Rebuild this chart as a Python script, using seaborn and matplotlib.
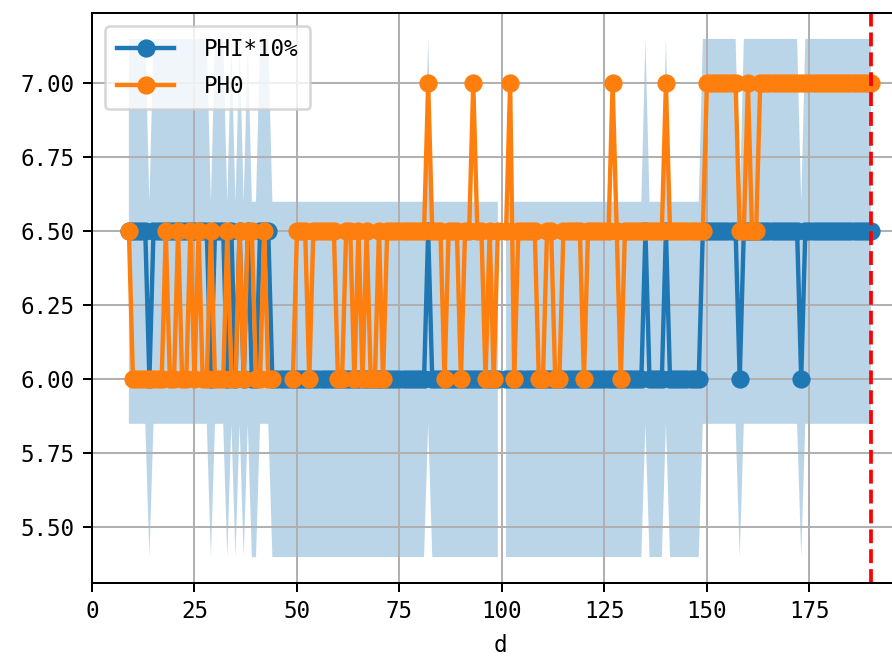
import numpy as np
import pandas as pd
import matplotlib
matplotlib.use("Agg")
import matplotlib.pyplot as plt
import seaborn as sns

nan = np.nan

# jours (axe x)
days = list(range(9, 191))

# PHI (ligne bleue), bande = +/- 10%
phi = [6.5,
       6.5, 6.5, 6.5, 6.5, 6.0, 6.5, 6.5, 6.5, 6.5, 6.5,
       6.5, 6.5, 6.5, 6.5, 6.5, 6.5, 6.5, 6.5, 6.5, 6.0,
       6.5, 6.5, 6.5, 6.0, 6.5, 6.0, 6.5, 6.0, 6.5, 6.0,
       6.0, 6.5, 6.5, 6.5, 6.0, 6.0, 6.0, 6.0, 6.0, 6.0,
       6.0, 6.0, 6.0, 6.0, 6.0, 6.0, 6.0, 6.0, 6.0, 6.0,
       6.0, 6.0, 6.0, 6.0, 6.0, 6.0, 6.0, 6.0, 6.0, 6.0,
       6.0, 6.0, 6.0, 6.0, 6.0, 6.0, 6.0, 6.0, 6.0, 6.0,
       6.0, 6.0, 6.5, 6.0, 6.0, 6.0, 6.0, 6.0, 6.0, 6.0,
       6.0, 6.0, 6.0, 6.0, 6.0, 6.0, 6.0, 6.0, 6.0, 6.0,
       nan, 6.0, 6.0, 6.0, 6.0, 6.0, 6.0, 6.0, 6.0, 6.0,
       6.0, 6.0, 6.0, 6.0, 6.0, 6.0, 6.0, 6.0, 6.0, 6.0,
       6.0, 6.0, 6.0, 6.0, 6.0, 6.0, 6.0, 6.0, 6.0, 6.0,
       6.0, 6.0, 6.0, 6.0, 6.0, 6.5, 6.0, 6.0, 6.0, 6.0,
       6.5, 6.0, 6.0, 6.0, 6.0, 6.0, 6.0, 6.0, 6.0, 6.5,
       6.5, 6.5, 6.5, 6.5, 6.5, 6.5, 6.5, 6.5, 6.0, 6.5,
       6.5, 6.5, 6.5, 6.5, 6.5, 6.5, 6.5, 6.5, 6.5, 6.5,
       6.5, 6.5, 6.5, 6.0, 6.5, 6.5, 6.5, 6.5, 6.5, 6.5,
       6.5, 6.5, 6.5, 6.5, 6.5, 6.5, 6.5, 6.5, 6.5, 6.5, 6.5]

# PH0 (ligne orange)
ph0 = [6.5,
       6.0, 6.0, 6.0, 6.0, 6.0, 6.0, 6.0, 6.0, 6.5, 6.0,
       6.0, 6.5, 6.0, 6.0, 6.5, 6.0, 6.5, 6.0, 6.0, 6.5,
       6.0, 6.0, 6.0, 6.5, 6.0, 6.0, 6.5, 6.0, 6.5, 6.5,
       6.0, 6.0, 6.5, 6.0, 6.0, nan, nan, nan, nan, 6.0,
       6.5, 6.5, 6.5, 6.0, 6.5, 6.5, 6.5, 6.5, 6.5, 6.5,
       6.0, 6.0, 6.5, 6.5, 6.0, 6.5, 6.0, 6.5, 6.0, 6.0,
       6.5, 6.0, 6.5, 6.5, 6.5, 6.5, 6.5, 6.5, 6.5, 6.5,
       6.5, 6.5, 7.0, 6.5, 6.5, 6.5, 6.0, 6.5, 6.5, 6.5,
       6.0, 6.5, 6.5, 7.0, 6.5, 6.5, 6.0, 6.5, 6.0, 6.5,
       nan, 6.5, 7.0, 6.0, 6.5, 6.5, 6.5, 6.5, 6.5, 6.0,
       6.0, 6.5, 6.5, 6.0, 6.0, 6.5, 6.5, 6.5, 6.5, 6.5,
       6.0, 6.5, 6.5, 6.5, 6.5, 6.5, 6.5, 7.0, 6.5, 6.0,
       6.5, 6.5, 6.5, 6.5, 6.5, 6.5, 6.5, 6.5, 6.5, 6.5,
       7.0, 6.5, 6.5, 6.5, 6.5, 6.5, 6.5, 6.5, 6.5, 6.5,
       7.0, 7.0, 7.0, 7.0, 7.0, 7.0, 7.0, 7.0, 6.5, 6.5,
       7.0, 6.5, 6.5, 7.0, 7.0, 7.0, 7.0, 7.0, 7.0, 7.0,
       7.0, 7.0, 7.0, 7.0, 7.0, 7.0, 7.0, 7.0, 7.0, 7.0,
       7.0, 7.0, 7.0, 7.0, 7.0, 7.0, 7.0, 7.0, 7.0, 7.0, 7.0]

jour_limite = 190

df = pd.DataFrame({"d": days, "PHI": phi, "PH0": ph0})

plt.rcParams['font.family'] = ['DejaVu Sans Mono', 'DejaVu Sans']
plt.rcParams['font.size'] = 9

# 0. Figure et axe (l'axe dépasse à droite comme sur l'original)
fig = plt.figure(figsize=(892 / 180, 659 / 180), dpi=180)
ax = fig.add_axes([92 / 892, 76 / 659, 816 / 892, 570 / 659])

# 1. Bande +/- 10% autour de PHI
ax.fill_between(df["d"], df["PHI"] * 0.9, df["PHI"] * 1.1,
                color="C0", alpha=0.3, linewidth=0)

# 2. Les deux courbes, coupées là où il manque des valeurs
for col, label, color in [("PHI", "PHI*10%", "C0"), ("PH0", "PH0", "C1")]:
    seg = df[["d", col]].copy()
    seg["seg"] = seg[col].isna().cumsum()
    for i, (_, g) in enumerate(seg.dropna().groupby("seg")):
        sns.lineplot(ax=ax, data=g, x="d", y=col, color=color, marker="o",
                     markersize=6.3, markeredgewidth=1, markeredgecolor=color,
                     linewidth=1.75, label=label if i == 0 else None)

# 3. Ligne verticale rouge
ax.axvline(jour_limite, color="red", linestyle="--", linewidth=1.5)

ax.set_xlim(left=0)
ax.set_xlabel("d")
ax.set_ylabel("")
ax.grid(True)
ax.legend(loc="upper left", borderaxespad=0.58, borderpad=0.52,
          labelspacing=0.62, handlelength=2.56, handletextpad=1.32)

fig.savefig("out.png", dpi=180)
